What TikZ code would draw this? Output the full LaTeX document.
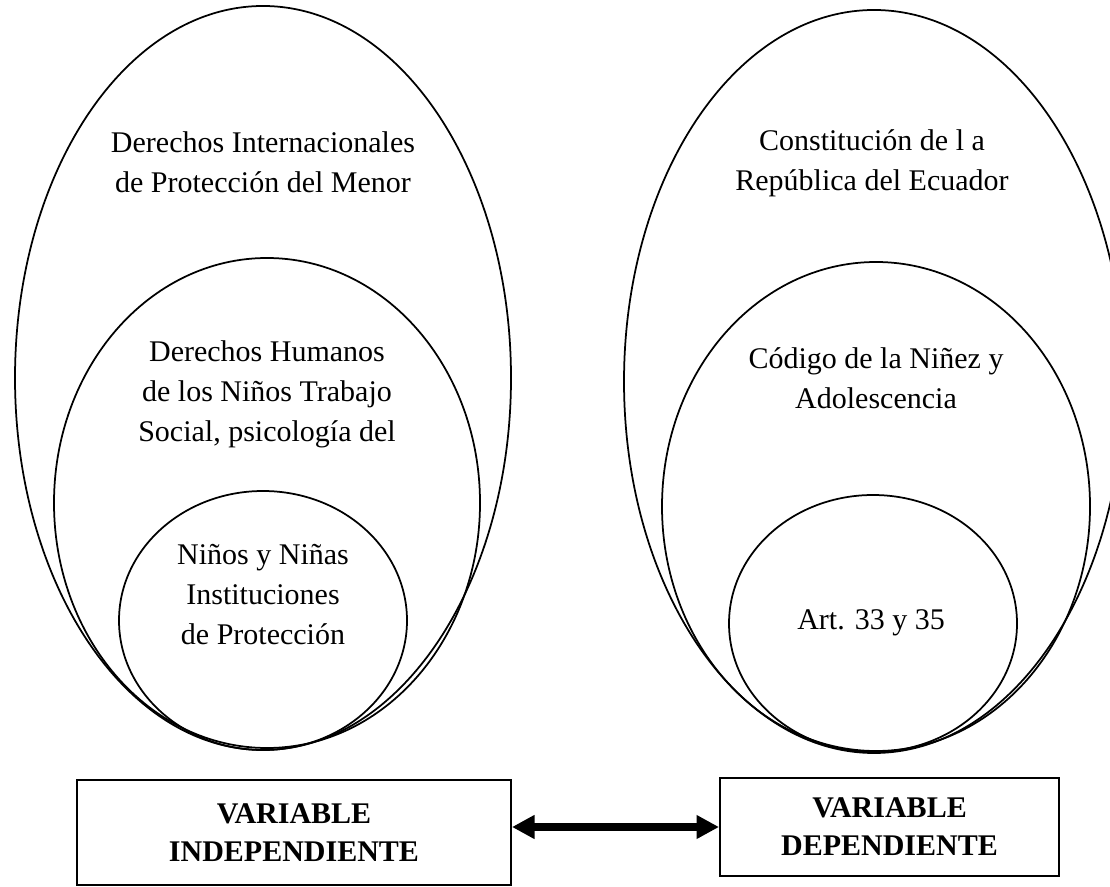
\documentclass[tikz,border=0pt]{standalone}
\usepackage{fontspec}
\setmainfont{Liberation Serif}
\usetikzlibrary{arrows.meta}

\begin{document}
\begin{tikzpicture}[x=0.4pt, y=0.4pt,
    ring/.style={line width=0.7pt},
    txt/.style={align=center, inner sep=0pt, font=\fontsize{12}{16}\selectfont},
    varbox/.style={draw, line width=0.8pt, align=center, inner sep=0pt,
        font=\bfseries\fontsize{12}{15.2}\selectfont}]
    \useasboundingbox (0,0) rectangle (1110,886);

    % Left set of nested ellipses
    \draw[ring] (263,508) ellipse [x radius=248, y radius=372];
    \draw[ring] (267,383) ellipse [x radius=213, y radius=245];
    \draw[ring] (263,265.5) ellipse [x radius=144, y radius=129.5];

    % Right set of nested ellipses
    \draw[ring] (874,504.5) ellipse [x radius=250, y radius=371.5];
    \draw[ring] (876,379.5) ellipse [x radius=214, y radius=244.5];
    \draw[ring] (873,262.5) ellipse [x radius=144, y radius=128.5];

    % Labels
    \node[txt] (intl) at (263,724) {Derechos Internacionales\\de Protección del Menor};
    \node[txt] (ddhh) at (267,492) {Derechos Humanos\\de los Niños Trabajo\\Social, psicología del};
    \node[txt] (ninos) at (263,291) {Niños y Niñas\\Instituciones\\de Protección};
    \node[txt] (const) at (872,723) {Constitución de l a\\República del Ecuador};
    \node[txt] (codigo) at (876,508) {Código de la Niñez y\\Adolescencia};
    \node[txt] (art) at (871,263) {Art. 33 y 35};

    % Variables
    \node[varbox, minimum width=173.6pt, minimum height=42pt] (vi) at (294,53.5) {VARIABLE\\INDEPENDIENTE};
    \node[varbox, minimum width=135.6pt, minimum height=39.2pt] (vd) at (889.5,59) {VARIABLE\\DEPENDIENTE};
    \draw[line width=3.2pt, {Triangle[length=9pt,width=9pt]}-{Triangle[length=9pt,width=9pt]}]
        (vi.east |- vd.west) -- (vd.west);
\end{tikzpicture}
\end{document}
